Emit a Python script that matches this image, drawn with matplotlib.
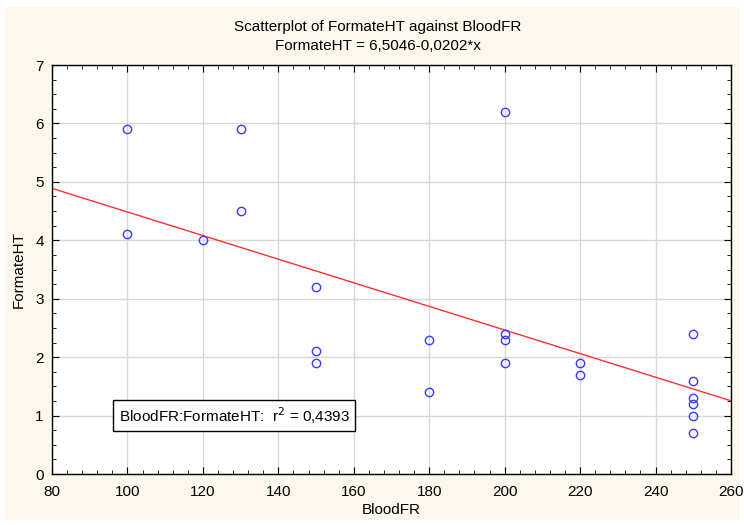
import matplotlib.pyplot as plt
from matplotlib.patches import Rectangle
from matplotlib.ticker import MultipleLocator
import numpy as np

# Data
blood_fr = [100, 100, 120, 130, 130, 150, 150, 150, 180, 180, 200,
            200, 200, 200, 220, 220, 250, 250, 250, 250, 250, 250]
formate_ht = [5.9, 4.1, 4.0, 5.9, 4.5, 3.2, 2.1, 1.9, 2.3, 1.4, 6.2,
              2.4, 2.3, 1.9, 1.9, 1.7, 2.4, 1.6, 1.3, 1.2, 1.0, 0.7]

# Fit given in the title
intercept, slope = 6.5046, -0.0202
r2 = 0.4393

plt.rcParams['font.family'] = ['Liberation Sans', 'DejaVu Sans']

fig = plt.figure(figsize=(7.44, 5.25), dpi=100)
fig.patch.set_facecolor('white')
# cream panel behind everything
fig.patches.append(Rectangle((5 / 744, 5 / 525), 735 / 744, 513 / 525,
                             transform=fig.transFigure, facecolor='#FDF8EE',
                             edgecolor='none', zorder=-10))

ax = fig.add_axes([52 / 744, 51 / 525, 679 / 744, 409 / 525])
ax.set_facecolor('white')

# Regression line
xl = np.array([80, 260])
ax.plot(xl, intercept + slope * xl, color='#FF3030', lw=1.0, zorder=2)

# Points
ax.plot(blood_fr, formate_ht, 'o', ms=6, mfc='none', mec='#3A3AFF', mew=1.0, zorder=3)

ax.set_xlim(80, 260)
ax.set_ylim(0, 7)
ax.xaxis.set_major_locator(MultipleLocator(20))
ax.xaxis.set_minor_locator(MultipleLocator(4))
ax.yaxis.set_major_locator(MultipleLocator(1))
ax.yaxis.set_minor_locator(MultipleLocator(0.25))

ax.grid(True, which='major', color='#D8D8D8', lw=1.0, zorder=0)
ax.set_axisbelow(True)
ax.tick_params(which='both', direction='in', top=True, right=True,
               labelsize=11, colors='black')
ax.tick_params(which='major', length=5)
ax.tick_params(axis='x', which='major', pad=8)
ax.tick_params(axis='y', which='major', pad=6)
ax.tick_params(which='minor', length=3)
for s in ax.spines.values():
    s.set_color('black')
    s.set_linewidth(1.0)

ax.set_xlabel('BloodFR', fontsize=11, labelpad=3)
ax.set_ylabel('FormateHT', fontsize=11, labelpad=7)

fig.text(378 / 744, 1 - 27 / 525, 'Scatterplot of FormateHT against BloodFR',
         ha='center', va='center', fontsize=11)
fig.text(378 / 744, 1 - 46 / 525, 'FormateHT = 6,5046-0,0202*x',
         ha='center', va='center', fontsize=11)

ax.text(0.098, 0.143, 'BloodFR:FormateHT:  r$^2$ = 0,4393', transform=ax.transAxes,
        ha='left', va='center', fontsize=11,
        bbox=dict(boxstyle='square,pad=0.35', facecolor='white', edgecolor='black', lw=1.0))

fig.savefig('out.png', dpi=100)
